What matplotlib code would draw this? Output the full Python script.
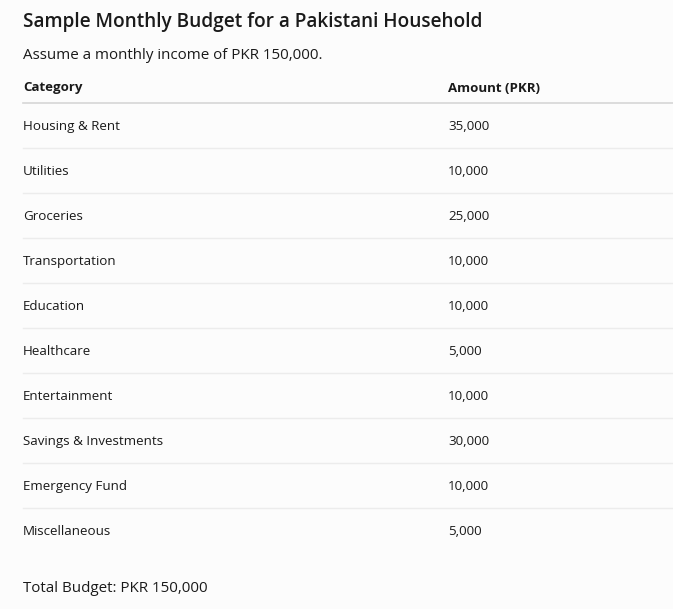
import matplotlib.pyplot as plt

plt.rcParams['font.family'] = ['Open Sans', 'DejaVu Sans']

title = 'Sample Monthly Budget for a Pakistani Household'
subtitle = 'Assume a monthly income of PKR 150,000.'
headers = ['Category', 'Amount (PKR)']
categories = ['Housing & Rent', 'Utilities', 'Groceries', 'Transportation',
              'Education', 'Healthcare', 'Entertainment',
              'Savings & Investments', 'Emergency Fund', 'Miscellaneous']
amounts = [35000, 10000, 25000, 10000, 10000, 5000, 10000, 30000, 10000, 5000]
total = 150000

fig = plt.figure(figsize=(6.73, 6.09), dpi=100, facecolor='#fcfcfc')
ax = fig.add_axes([0, 0, 1, 1])
ax.set_facecolor('#fcfcfc')
ax.set_xlim(0, 673)
ax.set_ylim(609, 0)
ax.axis('off')

x_cat = 23
x_amt = 448
txt = '#1a1a1a'

ax.text(x_cat, 27, title, fontsize=13.7, fontweight='semibold', color=txt, va='baseline')
ax.text(x_cat, 59, subtitle, fontsize=10.9, color=txt, va='baseline')

ax.text(x_cat, 91.5, headers[0], fontsize=9.5, fontweight='bold', color=txt, va='baseline')
ax.text(x_amt, 91.5, headers[1], fontsize=9.5, fontweight='bold', color=txt, va='baseline')
ax.plot([x_cat, 673], [102.5, 102.5], color='#d6d6d6', lw=1.2)

row_h = 45
y0 = 130
for i, (c, a) in enumerate(zip(categories, amounts)):
    y = y0 + i * row_h
    ax.text(x_cat, y, c, fontsize=9.6, color=txt, va='baseline')
    ax.text(x_amt, y, f'{a:,}', fontsize=9.6, color=txt, va='baseline')
    if i < len(categories) - 1:
        ax.plot([x_cat, 673], [y + 17.5, y + 17.5], color='#ececec', lw=1)

ax.text(x_cat, 592, f'Total Budget: PKR {total:,}', fontsize=10.9, color=txt, va='baseline')

fig.savefig('out.png', dpi=100, facecolor=fig.get_facecolor())
